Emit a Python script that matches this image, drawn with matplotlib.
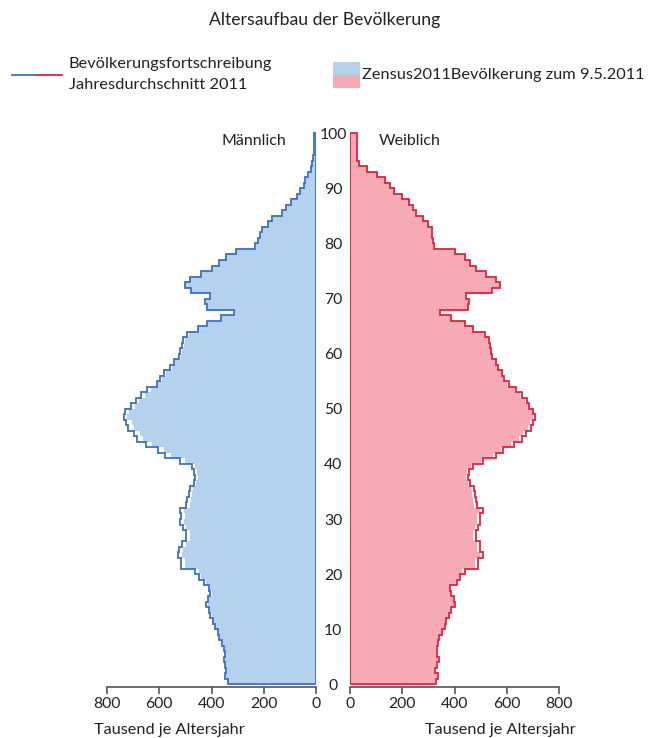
import numpy as np
import matplotlib
matplotlib.use("Agg")
import matplotlib.pyplot as plt
from matplotlib.patches import Rectangle
from matplotlib.lines import Line2D

plt.rcParams['font.family'] = ['Lato', 'DejaVu Sans']

# ages 0..99 (last bin = 99 and older), values in thousand persons
ages = np.arange(0, 101)

# Bevoelkerungsfortschreibung, Jahresdurchschnitt 2011 (outline)
male_fort = [338, 348, 343, 350, 353, 348, 353, 359, 370, 376,
             388, 394, 404, 411, 420, 413, 404, 411, 427, 447,
             462, 515, 515, 528, 524, 513, 499, 499, 511, 519,
             515, 520, 497, 492, 488, 484, 468, 462, 466, 473,
             522, 578, 605, 651, 684, 697, 719, 726, 736, 730,
             707, 690, 669, 647, 610, 596, 580, 558, 545, 524,
             520, 512, 508, 492, 450, 416, 363, 315, 418, 423,
             405, 480, 502, 483, 441, 398, 373, 345, 308, 232,
             222, 216, 207, 184, 167, 129, 114, 96, 72, 60,
             47, 41, 29, 20, 15, 10, 8, 8, 8, 8]
female_fort = [329, 336, 326, 333, 339, 333, 333, 336, 342, 352,
               362, 369, 378, 387, 401, 397, 387, 384, 410, 420,
               442, 489, 489, 508, 497, 497, 484, 484, 489, 499,
               499, 508, 487, 484, 480, 474, 458, 453, 457, 470,
               511, 559, 587, 626, 658, 674, 692, 700, 709, 702,
               686, 677, 658, 636, 607, 591, 581, 568, 559, 545,
               541, 535, 531, 515, 470, 441, 386, 345, 453, 455,
               444, 543, 575, 559, 520, 481, 460, 441, 402, 320,
               316, 314, 313, 300, 281, 253, 240, 226, 198, 169,
               153, 134, 102, 64, 34, 28, 28, 28, 28, 28]

# Zensus 2011, Bevoelkerung zum 9.5.2011 (filled area)
male_zensus = [335, 345, 340, 347, 350, 345, 350, 356, 367, 373,
               383, 389, 399, 406, 415, 408, 399, 406, 422, 442,
               447, 500, 500, 513, 509, 498, 484, 484, 496, 504,
               500, 505, 482, 477, 473, 469, 458, 452, 456, 463,
               500, 556, 583, 629, 662, 675, 697, 704, 722, 716,
               693, 676, 655, 633, 604, 590, 574, 552, 539, 518,
               514, 506, 502, 486, 448, 414, 361, 313, 416, 421,
               403, 478, 500, 481, 439, 396, 371, 343, 306, 230,
               220, 214, 205, 182, 165, 127, 112, 94, 70, 58,
               45, 39, 27, 18, 13, 8, 6, 6, 6, 6]
female_zensus = [326, 333, 323, 330, 336, 330, 330, 333, 339, 349,
                 359, 366, 375, 384, 398, 394, 384, 381, 407, 417,
                 430, 477, 477, 496, 485, 485, 472, 472, 477, 487,
                 487, 496, 475, 472, 468, 462, 450, 445, 449, 462,
                 501, 549, 577, 616, 648, 664, 682, 690, 699, 696,
                 680, 671, 652, 630, 601, 585, 579, 566, 557, 543,
                 539, 533, 529, 513, 468, 439, 384, 343, 451, 453,
                 442, 541, 573, 557, 518, 479, 458, 439, 400, 318,
                 314, 312, 311, 298, 279, 251, 238, 224, 203, 174,
                 158, 139, 107, 69, 39, 28, 28, 28, 28, 28]

x_ticks = [0, 200, 400, 600, 800]
age_ticks = list(range(0, 101, 10))

blue_fill = '#b4d2ee'
blue_line = '#3f6fc0'
pink_fill = '#f6aab5'
red_line = '#d9263f'
axis_col = '#555555'
txt = '#222222'

fig = plt.figure(figsize=(6.48, 7.38), dpi=100)
W, H = 648, 738
y_top, y_bot = 131.6, 686.8
ax_l = fig.add_axes([107 / W, 1 - y_bot / H, 209 / W, (y_bot - y_top) / H])
ax_r = fig.add_axes([350 / W, 1 - y_bot / H, 209 / W, (y_bot - y_top) / H])

for ax, fort, zen, fc, lc in [(ax_l, male_fort, male_zensus, blue_fill, blue_line),
                              (ax_r, female_fort, female_zensus, pink_fill, red_line)]:
    ax.stairs(zen, ages, orientation='horizontal', fill=True, color=fc, lw=0)
    ax.stairs(fort, ages, orientation='horizontal', baseline=0, color=lc, lw=1.3)
    ax.vlines(0, 0, 100, color=lc, lw=1.3)
    ax.set_xlim(0, 800)
    ax.set_ylim(-0.45, 100.3)
    for s in ['top', 'left', 'right']:
        ax.spines[s].set_visible(False)
    ax.spines['bottom'].set_color(axis_col)
    ax.spines['bottom'].set_linewidth(1.2)
    ax.set_xticks(x_ticks)
    ax.tick_params(axis='x', colors=axis_col, length=5, width=1.2, labelsize=11.3,
                   labelcolor=txt, pad=2)
    ax.patch.set_alpha(0)

ax_l.invert_xaxis()
ax_l.set_yticks([])

ax_r.set_yticks(age_ticks)
ax_r.tick_params(axis='y', length=0, pad=12.2, labelsize=11.3, labelcolor=txt)
for lbl in ax_r.get_yticklabels():
    lbl.set_ha('center')

fig.text(325 / W, 1 - 20 / H, 'Altersaufbau der Bevölkerung', ha='center', va='center',
         fontsize=12.7, color=txt)
fig.text(254 / W, 1 - 141 / H, 'Männlich', ha='center', va='center', fontsize=11.5,
         color=txt)
fig.text(410 / W, 1 - 141 / H, 'Weiblich', ha='center', va='center', fontsize=11.5,
         color=txt)
fig.text(94 / W, 1 - 730 / H, 'Tausend je Altersjahr', ha='left', va='center',
         fontsize=11.7, color=txt)
fig.text(576 / W, 1 - 730 / H, 'Tausend je Altersjahr', ha='right', va='center',
         fontsize=11.7, color=txt)

# legend
fig.add_artist(Line2D([12 / W, 37 / W], [1 - 75 / H, 1 - 75 / H], color=blue_line, lw=1.3))
fig.add_artist(Line2D([37 / W, 62 / W], [1 - 75 / H, 1 - 75 / H], color=red_line, lw=1.3))
fig.text(69 / W, 1 - 64 / H, 'Bevölkerungsfortschreibung', ha='left', va='center',
         fontsize=11.8, color=txt)
fig.text(69 / W, 1 - 85 / H, 'Jahresdurchschnitt 2011', ha='left', va='center',
         fontsize=11.8, color=txt)
fig.add_artist(Rectangle((333 / W, 1 - 75 / H), 27 / W, 13 / H, transform=fig.transFigure,
                         color=blue_fill, lw=0))
fig.add_artist(Rectangle((333 / W, 1 - 88 / H), 27 / W, 13 / H, transform=fig.transFigure,
                         color=pink_fill, lw=0))
fig.text(362 / W, 1 - 75 / H, 'Zensus2011Bevölkerung zum 9.5.2011', ha='left', va='center',
         fontsize=11.8, color=txt)

fig.savefig('out.png', dpi=100)
